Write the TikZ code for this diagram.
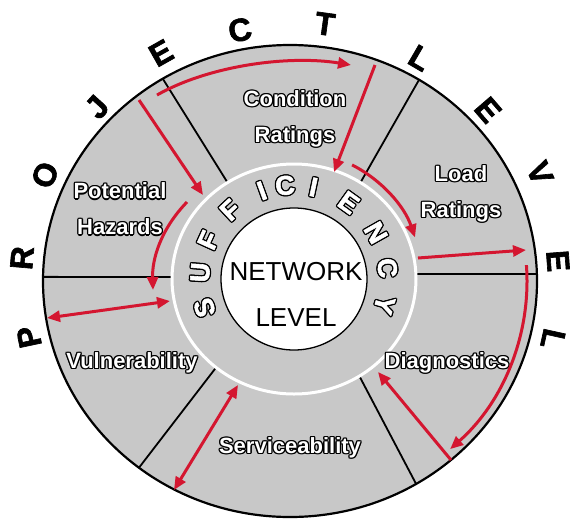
\documentclass[tikz,border=0pt]{standalone}
\usepackage{fontspec}
\setmainfont{Liberation Sans}
\newfontfamily\heavy{Liberation Sans Bold}[FakeBold=2]
\usetikzlibrary{arrows.meta,calc}
\definecolor{ringgray}{RGB}{200,200,200}
\definecolor{arrred}{RGB}{212,22,48}
\newcommand\olshift[3]{\rlap{\kern#1\raisebox{#2}{\textcolor{black}{#3}}}}
\newcommand\hollow[1]{\leavevmode\olshift{1.3pt}{0pt}{#1}\olshift{-1.3pt}{0pt}{#1}\olshift{0pt}{1.3pt}{#1}\olshift{0pt}{-1.3pt}{#1}\olshift{.95pt}{.95pt}{#1}\olshift{-.95pt}{.95pt}{#1}\olshift{.95pt}{-.95pt}{#1}\olshift{-.95pt}{-.95pt}{#1}\textcolor{white}{#1}}
\begin{document}
\begin{tikzpicture}[x=1pt,y=-1pt,
  lab/.style={font=\bfseries\fontsize{22}{36}\selectfont, align=center, inner sep=0pt},
  suf/.style={font=\heavy\fontsize{27}{27}\selectfont, inner sep=0pt},
  proj/.style={font=\heavy\fontsize{32}{32}\selectfont, inner sep=0pt},
  net/.style={font=\fontsize{26}{26}\selectfont, inner sep=0pt},
  rarrow/.style={draw=arrred, line width=3pt, -{Triangle[length=13pt,width=11pt]}},
  rdarrow/.style={draw=arrred, line width=3pt, {Triangle[length=13pt,width=11pt]}-{Triangle[length=13pt,width=11pt]}},
  divider/.style={draw=black, line width=1.8pt}
]
\useasboundingbox (0,0) rectangle (573,520);
\coordinate (Co) at (290,281);
\coordinate (Cr) at (294,279);
% base disc
\fill[ringgray] (Co) ellipse [x radius=247, y radius=236];
% dividers
\draw[divider] ($(Cr)+(-123:122 and 115)$) -- ($(Co)+(-121:247 and 236)$);
\draw[divider] ($(Cr)+(-57:122 and 115)$) -- ($(Co)+(-58.5:247 and 236)$);
\draw[divider] ($(Cr)+(129.7:122 and 115)$) -- ($(Co)+(127.7:247 and 236)$);
\draw[divider] ($(Cr)+(57.6:122 and 115)$) -- ($(Co)+(59.3:247 and 236)$);
\draw[divider] ($(Cr)+(-179:122 and 115)$) -- ($(Co)+(-179:247 and 236)$);
\draw[divider] ($(Cr)+(-2.5:122 and 115)$) -- ($(Co)+(-1.7:247 and 236)$);
% outer outline
\draw[line width=2.2pt] (Co) ellipse [x radius=247, y radius=236];
% white ring and inner disc
\draw[white, line width=3pt] (Cr) ellipse [x radius=122, y radius=115];
\filldraw[fill=white, draw=black, line width=1.3pt] (Cr) ellipse [x radius=73, y radius=71];
% network level
\node[net] (net1) at (296,272) {NETWORK};
\node[net] (net2) at (296,318) {LEVEL};
% sufficiency
\foreach \ch/\p/\r [count=\i] in {S/-197.8/107.8, U/-176/86, F/-155.6/65.6, F/-132.8/42.8, I/-110/20, C/-95.5/5.5, I/-78/-12, E/-54.4/-35.6, N/-29.5/-60.5, C/-6.7/-83.3, Y/16/-106}
  \node[suf, rotate=\r] (s\i) at ($(Cr)+(\p:94)$) {\hollow{\ch}};
% project level
\foreach \ch/\x/\y/\r [count=\i] in {P/29/337/102, R/22/258/85, O/45/175/66.6, J/97/107/48, E/161/53/29.5, C/240/30/11.3, T/325/24/-7.8, L/420/58/-30.2, E/488/110/-49.2, V/540/173/-66.6, E/558/261/-85.7, L/553/339/-102.4}
  \node[proj, rotate=\r] (p\i) at (\x,\y) {\ch};
% labels
\node[lab] (cond) at (295,119) {\hollow{Condition}\\\hollow{Ratings}};
\node[lab] (load) at (461,194) {\hollow{Load}\\\hollow{Ratings}};
\node[lab] (haz) at (120,209) {\hollow{Potential}\\\hollow{Hazards}};
\node[lab] (vul) at (132,363) {\hollow{Vulnerability}};
\node[lab] (diag) at (447,363) {\hollow{Diagnostics}};
\node[lab] (serv) at (290,448) {\hollow{Serviceability}};
% arrow end points
\coordinate (a1s) at (157,95);   \coordinate (a1e) at (351,65);
\coordinate (a2s) at (139,100);  \coordinate (a2e) at (203,195);
\coordinate (a3s) at (375,65);   \coordinate (a3e) at (334,172);
\coordinate (a5s) at (418,258);  \coordinate (a5e) at (526,250);
\coordinate (a7s) at (451,460);  \coordinate (a7e) at (378,372);
\coordinate (a8s) at (238,385);  \coordinate (a8e) at (174,490);
\coordinate (a9s) at (47,318);   \coordinate (a9e) at (170,301);
\coordinate (a10s) at (187,202); \coordinate (a10e) at (153,290);
% red arrows
\draw[rarrow] (a1s) .. controls (210,65) and (290,55) .. (a1e);
\draw[rarrow] (a2s) -- (a2e);
\draw[rarrow] (a3s) -- (a3e);
\draw[rarrow] ($(Cr)+(-63:128)$) arc[start angle=-63, end angle=-19, radius=128];
\draw[rarrow] (a5s) -- (a5e);
\draw[rarrow] ($(Co)+(-4:237 and 228)$) arc[start angle=-4, end angle=47.5, x radius=237, y radius=228];
\draw[rarrow] (a7s) -- (a7e);
\draw[rdarrow] (a8s) -- (a8e);
\draw[rdarrow] (a9s) -- (a9e);
\draw[rarrow] (a10s) .. controls (160,230) and (152,260) .. (a10e);
\end{tikzpicture}
\end{document}
